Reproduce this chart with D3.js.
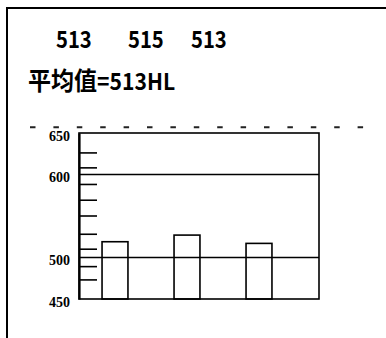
<!DOCTYPE html>
<html>
<head>
<meta charset="utf-8">
<script src="https://cdn.jsdelivr.net/npm/d3@7"></script>
<style>
    body { margin: 0; background: #fff; }
    svg { display: block; }
</style>
</head>
<body>
<svg id="chart"></svg>
<script>
// data
const categories = ["A", "B", "C"];
const barValues = [519, 527, 517];
const headValues = [513, 515, 513];
const meanText = "513HL";
const yTicks = [450, 500, 600, 650];
const minorTicks = [626, 608, 588, 569, 550, 528, 510, 489, 473];
const gridValues = [500, 600];
const limitValue = 657;

const size = { width: 386, height: 338 };
const margin = { left: 79, top: 133, right: 67, bottom: 39 };
const width = size.width - margin.left - margin.right;
const height = size.height - margin.top - margin.bottom;

const svg = d3.select("#chart")
    .attr("width", size.width)
    .attr("height", size.height);

// outer frame (runs off the page to the right and bottom)
svg.append("rect")
    .attr("x", 7).attr("y", 8)
    .attr("width", 500).attr("height", 500)
    .attr("fill", "none")
    .attr("stroke", "#000")
    .attr("stroke-width", 2);

// header values, font is a bit condensed in the original
const headX = [56, 128, 191];
svg.selectAll(".head")
    .data(headValues)
    .enter()
    .append("text")
    .attr("class", "head")
    .attr("transform", (d, i) => "translate(" + headX[i] + ",48) scale(0.92,1.08)")
    .attr("font-family", "'Noto Sans CJK SC', sans-serif")
    .attr("font-size", 22)
    .attr("font-weight", 700)
    .text(d => d);

const mean = svg.append("text")
    .attr("transform", "translate(28,90) scale(0.96,1.05)")
    .attr("font-family", "'Noto Sans CJK SC', sans-serif")
    .attr("font-weight", 700);
mean.append("tspan").attr("font-size", 24).text("平均值");
mean.append("tspan").attr("font-size", 22).text("=" + meanText);

const g = svg.append("g")
    .attr("transform", "translate(" + margin.left + "," + margin.top + ")");

const y = d3.scaleLinear().domain([450, 650]).range([height, 0]);
const x = d3.scaleBand().domain(categories).range([0, 216])
    .paddingInner(0.64).paddingOuter(0.32);

// dashed limit line
g.append("line")
    .attr("x1", 30 - margin.left)
    .attr("x2", 372 - margin.left)
    .attr("y1", y(limitValue))
    .attr("y2", y(limitValue))
    .attr("stroke", "#222")
    .attr("stroke-width", 2)
    .attr("stroke-dasharray", "5.5,17.9");

// grid lines
g.selectAll(".grid")
    .data(gridValues)
    .enter()
    .append("line")
    .attr("x1", 0).attr("x2", width)
    .attr("y1", d => y(d)).attr("y2", d => y(d))
    .attr("stroke", "#000")
    .attr("stroke-width", 1.6);

// minor ticks
g.selectAll(".minor")
    .data(minorTicks)
    .enter()
    .append("line")
    .attr("x1", 0).attr("x2", 18)
    .attr("y1", d => y(d)).attr("y2", d => y(d))
    .attr("stroke", "#000")
    .attr("stroke-width", 1.6);

// bars
g.selectAll(".bar")
    .data(barValues)
    .enter()
    .append("rect")
    .attr("class", "bar")
    .attr("x", (d, i) => x(categories[i]))
    .attr("width", x.bandwidth())
    .attr("y", d => y(d))
    .attr("height", d => height - y(d))
    .attr("fill", "none")
    .attr("stroke", "#000")
    .attr("stroke-width", 1.6);

// plot frame
g.append("rect")
    .attr("width", width).attr("height", height)
    .attr("fill", "none")
    .attr("stroke", "#000")
    .attr("stroke-width", 1.6);

// y axis
const yAxis = g.append("g")
    .call(d3.axisLeft(y).tickValues(yTicks).tickSize(0).tickPadding(9));
yAxis.select(".domain")
    .attr("stroke-width", 2.2);
yAxis.selectAll("text")
    .attr("font-family", "'Liberation Serif', 'Times New Roman', serif")
    .attr("font-size", 14)
    .attr("font-weight", "bold")
    .attr("fill", "#000")
    .attr("dy", "0.5em");
</script>
</body>
</html>
